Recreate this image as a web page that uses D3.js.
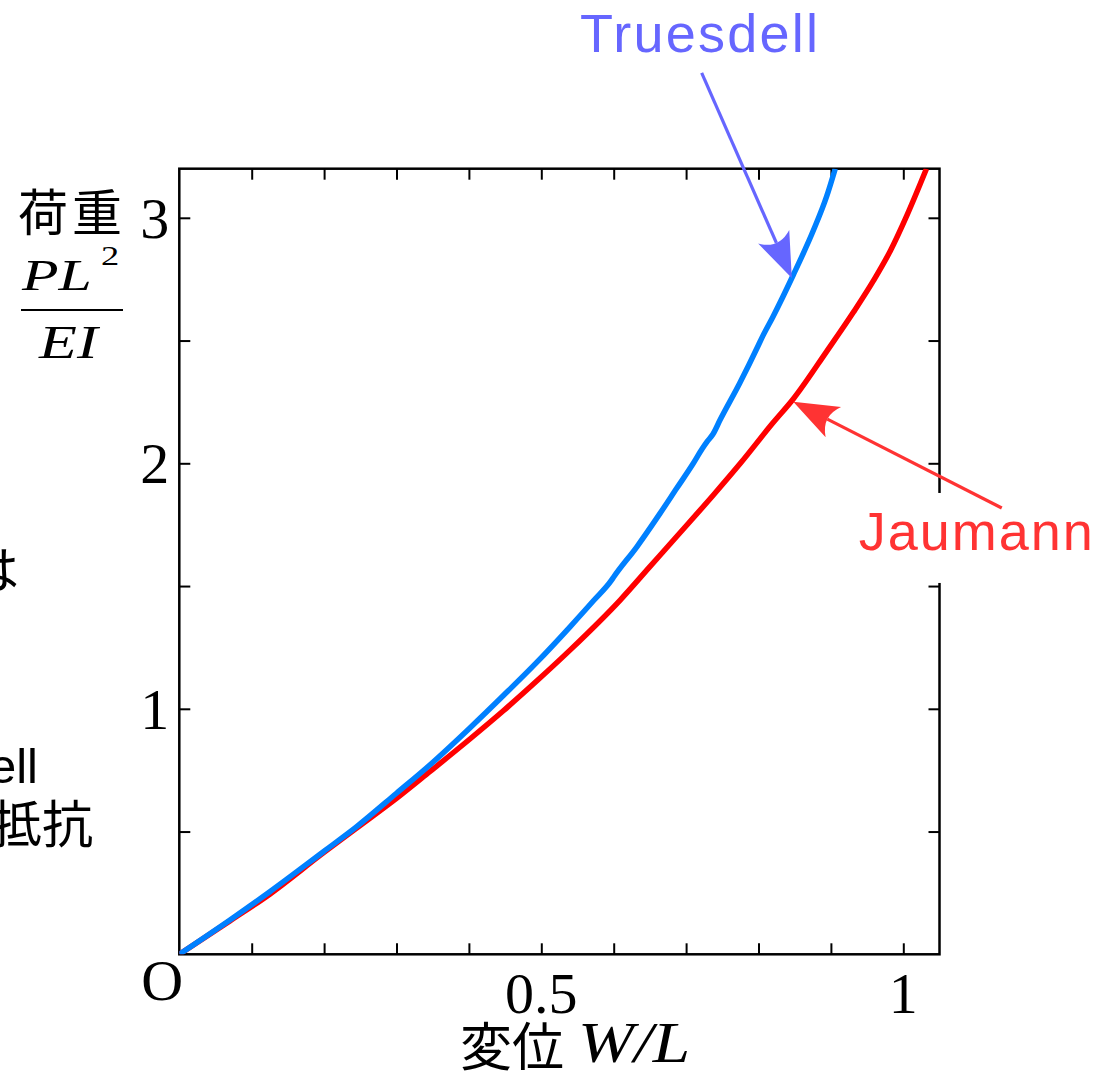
<!DOCTYPE html>
<html><head><meta charset="utf-8">
<script src="https://cdn.jsdelivr.net/npm/d3@7"></script>
<style>body{margin:0;background:#fff;overflow:hidden}</style>
</head><body>
<svg id="c" width="1109" height="1074"></svg>
<script>
// ---- data ----
const truesdellW = [0, 0.070, 0.125, 0.199, 0.245, 0.300, 0.346, 0.401, 0.448, 0.494, 0.540, 0.572, 0.597, 0.600, 0.632, 0.664, 0.687, 0.710, 0.722, 0.729, 0.737, 0.747, 0.774, 0.800, 0.804, 0.820, 0.848, 0.876, 0.894, 0.906];
const truesdellP = [0, 0.140, 0.255, 0.418, 0.520, 0.656, 0.771, 0.921, 1.055, 1.190, 1.335, 1.440, 1.524, 1.537, 1.660, 1.796, 1.898, 2.000, 2.058, 2.088, 2.118, 2.177, 2.326, 2.482, 2.507, 2.597, 2.767, 2.950, 3.086, 3.200];
const jaumannW = [0, 0.070, 0.125, 0.199, 0.245, 0.300, 0.346, 0.401, 0.448, 0.494, 0.540, 0.609, 0.650, 0.691, 0.738, 0.775, 0.820, 0.848, 0.894, 0.931, 0.959, 0.982, 1.005, 1.032];
const jaumannP = [0, 0.136, 0.245, 0.413, 0.514, 0.635, 0.744, 0.876, 0.993, 1.114, 1.240, 1.443, 1.579, 1.715, 1.872, 2.000, 2.165, 2.262, 2.455, 2.615, 2.745, 2.865, 3.010, 3.200];
const xTickValues = [0.1, 0.2, 0.3, 0.4, 0.5, 0.6, 0.7, 0.8, 0.9, 1.0];
const yTickValues = [0.5, 1, 1.5, 2, 2.5, 3];
const xLabelValues = [0.5, 1];
const xTickLabels = ["0.5", "1"];
const yLabelValues = [1, 2, 3];
const yTickLabels = ["1", "2", "3"];
const originLabel = "O";
const seriesNames = ["Truesdell", "Jaumann"];
// annotation anchors in data units
const truesdellArrow = {tail: [0.7215, 3.59], tip: [0.846, 2.755], label: [0.5535, 3.675]};
const jaumannArrow = {tail: [1.136, 1.818], tip: [0.848, 2.251], label: [0.9385, 1.647]};
const sideTexts = [{t: "は", x: 19, y: 589}, {t: "Truesdell", x: 38, y: 783}, {t: "抵抗", x: 93, y: 843}];

// ---- layout ----
const pL = 179.3, pR = 939.5, pT = 168.7, pB = 954.3;
const x = d3.scaleLinear().domain([0, 1.05]).range([pL, pR]);
const y = d3.scaleLinear().domain([0, 3.2]).range([pB, pT]);
const svg = d3.select("#c");
const serif = "'Liberation Serif','Times New Roman',serif";
const sans = "'Liberation Sans',Arial,sans-serif";
const cjk = "'Noto Sans CJK JP','Noto Sans CJK SC',sans-serif";
const blue = "#0080ff", red = "#ff0000", tCol = "#6666ff", jCol = "#ff3333";

svg.append("defs").append("clipPath").attr("id", "plot")
  .append("rect").attr("x", pL).attr("y", pT).attr("width", pR - pL).attr("height", pB - pT);

// ticks (inward) via d3 axes
const tk = 11;
function styleAxis(g) {
  g.select(".domain").remove();
  g.selectAll(".tick line").attr("stroke", "#000").attr("stroke-width", 2);
  g.selectAll(".tick text").remove();
}
svg.append("g").attr("transform", `translate(0,${pB})`)
  .call(d3.axisBottom(x).tickValues(xTickValues).tickSizeInner(-tk).tickSizeOuter(0)).call(styleAxis);
svg.append("g").attr("transform", `translate(0,${pT})`)
  .call(d3.axisTop(x).tickValues(xTickValues).tickSizeInner(-tk).tickSizeOuter(0)).call(styleAxis);
svg.append("g").attr("transform", `translate(${pL},0)`)
  .call(d3.axisLeft(y).tickValues(yTickValues).tickSizeInner(-tk).tickSizeOuter(0)).call(styleAxis);
svg.append("g").attr("transform", `translate(${pR},0)`)
  .call(d3.axisRight(y).tickValues(yTickValues).tickSizeInner(-tk).tickSizeOuter(0)).call(styleAxis);

svg.append("rect").attr("x", pL).attr("y", pT).attr("width", pR - pL).attr("height", pB - pT)
  .attr("fill", "none").attr("stroke", "#000").attr("stroke-width", 2.5);

// tick labels
svg.append("g").selectAll("text").data(xLabelValues).join("text")
  .attr("x", d => x(d)).attr("y", 1013).attr("text-anchor", "middle")
  .attr("font-family", serif).attr("font-size", 58).text((d, i) => xTickLabels[i]);
svg.append("g").selectAll("text").data(yLabelValues).join("text")
  .attr("x", pL - 10).attr("y", d => y(d) + 20).attr("text-anchor", "end")
  .attr("font-family", serif).attr("font-size", 58).text((d, i) => yTickLabels[i]);
svg.append("text").attr("x", x(0) - 17).attr("y", 1000).attr("text-anchor", "middle")
  .attr("font-family", serif).attr("font-size", 58).text(originLabel);

// x-axis title
const xt = svg.append("g");
xt.append("text").attr("x", 460).attr("y", 1066).attr("font-family", cjk).attr("font-size", 52).text("変位");
xt.append("text").attr("transform", "translate(578,1062) scale(1.2,1)")
  .attr("font-family", serif).attr("font-style", "italic").attr("font-size", 56).text("W/L");

// y-axis title
const yt = svg.append("g");
yt.append("text").attr("x", 72).attr("y", 231).attr("text-anchor", "middle").attr("font-family", cjk).attr("font-size", 50).attr("letter-spacing", 4).text("荷重");
yt.append("text").attr("transform", "translate(22,290) scale(1.33,1)").attr("font-family", serif)
  .attr("font-style", "italic").attr("font-size", 45).text("PL");
yt.append("text").attr("transform", "translate(101,265) scale(1.3,1)").attr("font-family", serif).attr("font-size", 28).text("2");
yt.append("line").attr("x1", 21).attr("x2", 123).attr("y1", 310).attr("y2", 310).attr("stroke", "#000").attr("stroke-width", 2.2);
yt.append("text").attr("transform", "translate(39,358) scale(1.35,1)").attr("font-family", serif)
  .attr("font-style", "italic").attr("font-size", 46).text("EI");

// side texts cut off at the left edge
svg.append("g").selectAll("text").data(sideTexts).join("text")
  .attr("x", d => d.x).attr("y", d => d.y).attr("text-anchor", "end")
  .attr("font-family", d => /[a-z]/i.test(d.t) ? sans : cjk)
  .attr("font-size", d => /[a-z]/i.test(d.t) ? 49 : 51).text(d => d.t);

// curves
const line = d3.line().x(d => x(d[0])).y(d => y(d[1])).curve(d3.curveMonotoneX);
const plot = svg.append("g").attr("clip-path", "url(#plot)");
plot.append("path").datum(jaumannW.map((w, i) => [w, jaumannP[i]]))
  .attr("d", line).attr("fill", "none").attr("stroke", red).attr("stroke-width", 5.5).attr("stroke-linejoin", "round");
plot.append("path").datum(truesdellW.map((w, i) => [w, truesdellP[i]]))
  .attr("d", line).attr("fill", "none").attr("stroke", blue).attr("stroke-width", 5.5).attr("stroke-linejoin", "round");

// annotation labels
function label(a, txt, col, len, bg) {
  const t = svg.append("text").attr("x", x(a.label[0])).attr("y", y(a.label[1]))
    .attr("font-family", sans).attr("font-size", 54).attr("fill", col)
    .attr("textLength", len).attr("lengthAdjust", "spacing").text(txt);
  if (bg) {
    const b = t.node().getBBox();
    svg.insert("rect", () => t.node()).attr("x", b.x - 8).attr("y", b.y - 8)
      .attr("width", b.width + 16).attr("height", b.height + 30).attr("fill", "#fff");
  }
}
label(truesdellArrow, seriesNames[0], tCol, 238, true);
label(jaumannArrow, seriesNames[1], jCol, 234, true);

function arrow(a, col, w) {
  const t = [x(a.tail[0]), y(a.tail[1])], p = [x(a.tip[0]), y(a.tip[1])];
  const dx = p[0] - t[0], dy = p[1] - t[1], len = Math.hypot(dx, dy);
  const ux = dx / len, uy = dy / len, nx = -uy, ny = ux;
  const L = 45, W = 17;
  const c1 = [p[0] - ux * L + nx * W, p[1] - uy * L + ny * W];
  const c2 = [p[0] - ux * L - nx * W, p[1] - uy * L - ny * W];
  const ct = [p[0] - ux * L * 0.7, p[1] - uy * L * 0.7];
  const nd = 0.85 * L;
  svg.append("line").attr("x1", t[0]).attr("y1", t[1]).attr("x2", p[0] - ux * nd).attr("y2", p[1] - uy * nd)
    .attr("stroke", col).attr("stroke-width", w);
  const path = d3.path();
  path.moveTo(p[0], p[1]); path.lineTo(c1[0], c1[1]);
  path.quadraticCurveTo(ct[0], ct[1], c2[0], c2[1]); path.closePath();
  svg.append("path").attr("d", path.toString()).attr("fill", col);
}
arrow(truesdellArrow, tCol, 3.2);
arrow(jaumannArrow, jCol, 3.2);
</script>
</body></html>
